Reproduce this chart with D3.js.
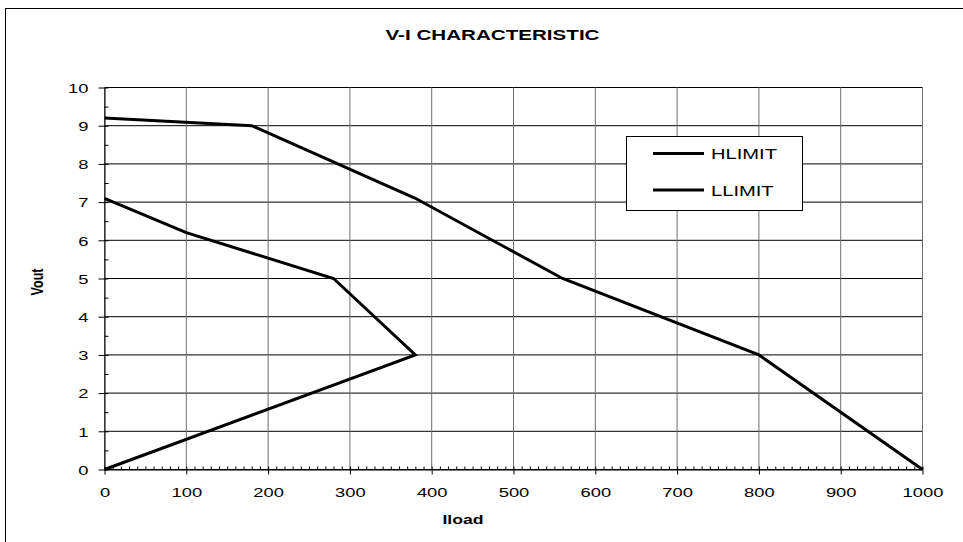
<!DOCTYPE html>
<html><head><meta charset="utf-8">
<script src="https://cdn.jsdelivr.net/npm/d3@7"></script>
<style>body{margin:0;background:#fff}svg{display:block}</style>
</head><body><svg width="963" height="542"></svg>
<script>
// ---- data ----
const seriesNames = ["HLIMIT", "LLIMIT"];
const hlimitX = [0, 180, 380, 560, 800, 1000];
const hlimitY = [9.2, 9.0, 7.1, 5.0, 3.0, 0];
const llimitX = [0, 100, 280, 380, 0];
const llimitY = [7.1, 6.2, 5.0, 3.0, 0];
const xTicks = [0, 100, 200, 300, 400, 500, 600, 700, 800, 900, 1000];
const yTicks = [0, 1, 2, 3, 4, 5, 6, 7, 8, 9, 10];
const chartTitle = "V-I CHARACTERISTIC";
const xTitle = "Iload";
const yTitle = "Vout";

// ---- setup ----
const SX = 1.36;
const FONT = "'Liberation Sans', Arial, sans-serif";
const svg = d3.select("svg");
const x = d3.scaleLinear().domain([0, 1000]).range([104.5, 922.5]);
const y = d3.scaleLinear().domain([0, 10]).range([469.5, 87.5]);

// outer frame
svg.append("rect").attr("x", 5.5).attr("y", 8.5).attr("width", 1000).attr("height", 1000)
  .attr("fill", "none").attr("stroke", "#000").attr("stroke-width", 1);

function label(str, px, py, size, weight, anchor, sx, rot) {
  svg.append("text")
    .attr("transform", `translate(${px},${py}) scale(${sx},1)` + (rot ? ` rotate(${rot})` : ""))
    .attr("text-anchor", anchor)
    .style("font-family", FONT).style("font-size", size + "px").style("font-weight", weight)
    .attr("fill", "#000").text(str);
}

// gridlines
const grid = svg.append("g").attr("stroke-width", 1);
grid.selectAll(".h").data(yTicks).join("line").attr("stroke", "#000")
  .attr("x1", x(0)).attr("x2", x(1000)).attr("y1", d => y(d)).attr("y2", d => y(d));
grid.selectAll(".v").data(xTicks).join("line").attr("stroke", "#6e6e6e")
  .attr("y1", y(0)).attr("y2", y(10)).attr("x1", d => x(d)).attr("x2", d => x(d));

// axes
const xMinor = d3.range(0, 1001, 10);
const yMinor = d3.range(0, 10.01, 0.5);
const gx = svg.append("g").attr("transform", `translate(0,${y(0)})`);
gx.call(d3.axisBottom(x).tickValues(xMinor).tickSize(-3).tickSizeOuter(0).tickFormat(""));
const gx2 = svg.append("g").attr("transform", `translate(0,${y(0)})`);
gx2.call(d3.axisBottom(x).tickValues(xTicks).tickSize(5).tickSizeOuter(0).tickFormat(d3.format("d")));
gx2.select(".domain").remove();
gx2.selectAll("text").attr("y", 28).attr("dy", null)
  .attr("transform", `scale(${SX},1)`)
  .style("font-family", FONT).style("font-size", "13.5px").attr("fill", "#000");

const gy = svg.append("g").attr("transform", `translate(${x(0)},0)`);
gy.call(d3.axisLeft(y).tickValues(yMinor).tickSize(-4).tickSizeOuter(0).tickFormat(""));
const gy2 = svg.append("g").attr("transform", `translate(${x(0)},0)`);
gy2.call(d3.axisLeft(y).tickValues(yTicks).tickSize(6).tickSizeOuter(0).tickFormat(d3.format("d")));
gy2.select(".domain").remove();
gy2.selectAll("text").attr("x", -16 / SX).attr("dy", "0.36em")
  .attr("transform", `scale(${SX},1)`)
  .style("font-family", FONT).style("font-size", "13.5px").attr("fill", "#000");
svg.selectAll(".tick line").attr("stroke", "#000");
svg.selectAll(".domain").attr("stroke", "#000");

// series lines
const line = d3.line().x(d => x(d[0])).y(d => y(d[1])).curve(d3.curveLinear);
const series = [d3.zip(hlimitX, hlimitY), d3.zip(llimitX, llimitY)];
svg.selectAll(".series").data(series).join("path")
  .attr("d", line).attr("fill", "none").attr("stroke", "#000")
  .attr("stroke-width", 3).attr("stroke-linejoin", "miter");

// titles
label(chartTitle, 492.5, 39.5, 15.5, "bold", "middle", 1.33);
label(xTitle, 463, 524, 13, "bold", "middle", SX);
label(yTitle, 43, 282, 12.5, "bold", "middle", SX, -90);

// legend
const lg = svg.append("g");
lg.append("rect").attr("x", 626.5).attr("y", 136.5).attr("width", 176).attr("height", 74)
  .attr("fill", "#fff").attr("stroke", "#000");
const ly = d3.scalePoint().domain(seriesNames).range([153.5, 190]);
seriesNames.forEach(n => {
  lg.append("line").attr("x1", 653).attr("x2", 704).attr("y1", ly(n)).attr("y2", ly(n))
    .attr("stroke", "#000").attr("stroke-width", 3);
  label(n, 711, ly(n) + 5.8, 15.5, "normal", "start", 1.3);
});
</script></body></html>
